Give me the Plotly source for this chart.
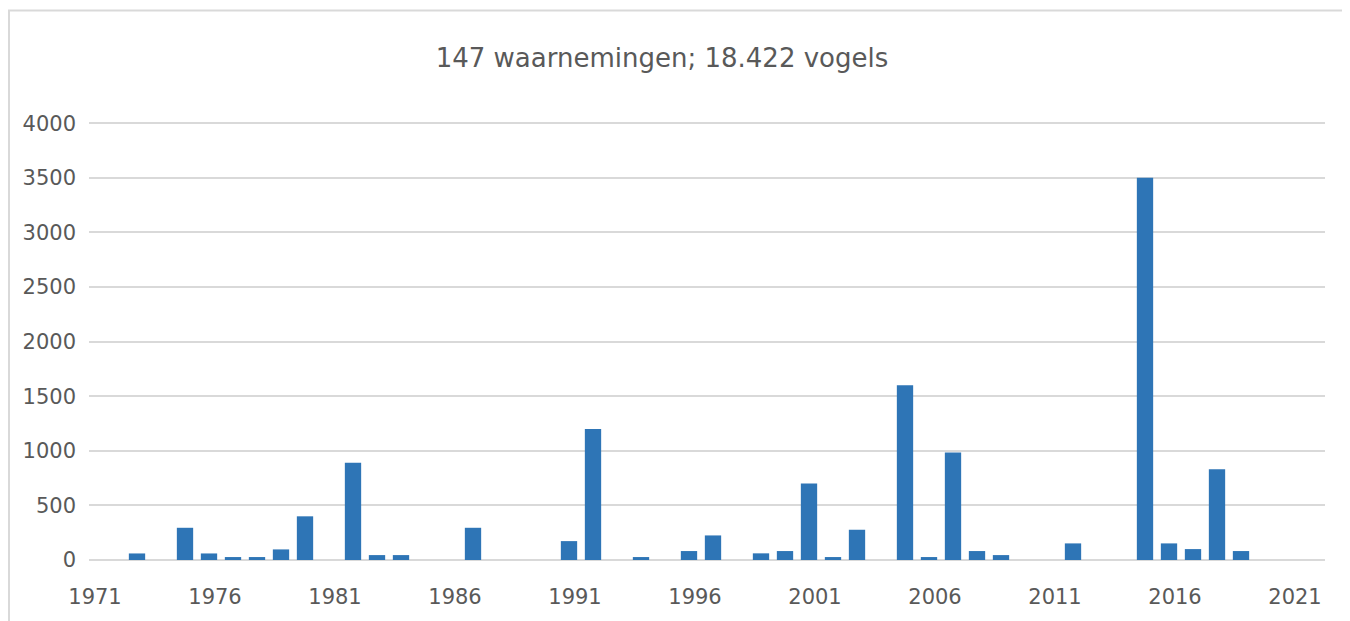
import plotly.graph_objects as go

# Data
years = [1973, 1975, 1976, 1977, 1978, 1979, 1980, 1982, 1983, 1984,
         1987, 1991, 1992, 1994, 1996, 1997, 1999, 2000, 2001, 2002,
         2003, 2005, 2006, 2007, 2008, 2009, 2012, 2015, 2016, 2017,
         2018, 2019]
birds = [60, 295, 60, 27, 27, 97, 400, 890, 45, 45,
         295, 173, 1200, 27, 82, 225, 61, 82, 700, 27,
         277, 1600, 27, 985, 82, 45, 152, 3500, 152, 100,
         830, 82]
x_ticks = [1971, 1976, 1981, 1986, 1991, 1996, 2001, 2006, 2011, 2016, 2021]
y_ticks = [0, 500, 1000, 1500, 2000, 2500, 3000, 3500, 4000]
title_text = "147 waarnemingen; 18.422 vogels"

# page body has an 8px margin, so the figure is drawn 8px in from the window edge
OFF = 8
W, H = 1350 - OFF, 621 - OFF
ML, MR, MT = 89 - OFF, 25, 121 - OFF
MB = H - (562 - OFF)
PW, PH = W - ML - MR, H - MT - MB

fig = go.Figure(go.Bar(
    x=years, y=birds, width=0.68,
    marker=dict(color="#2E75B6", line=dict(width=0)),
    hoverinfo="x+y",
))

grey = "#595959"
fig.update_layout(
    width=W, height=H, autosize=False,
    margin=dict(l=ML, r=MR, t=MT, b=MB),
    paper_bgcolor="white", plot_bgcolor="white",
    showlegend=False,
    font=dict(family="DejaVu Sans", color=grey),
    title=dict(text=title_text, x=(662 - OFF - ML) / PW, xref="paper", xanchor="center",
               y=1 - (58 - OFF) / H, yanchor="middle",
               font=dict(family="DejaVu Sans", size=26, color=grey)),
)
fig.update_xaxes(
    range=[1971.0, 2022.5], tickmode="array", tickvals=x_ticks,
    ticktext=[str(t) for t in x_ticks],
    showgrid=False, zeroline=False, showline=False, ticks="",
    tickfont=dict(size=21, color=grey), ticklabelshift=6, ticklabelstandoff=22,
)
fig.update_yaxes(
    range=[0, 4020], tickmode="array", tickvals=y_ticks,
    showgrid=True, gridcolor="#d9d9d9", gridwidth=1.5,
    zeroline=True, zerolinecolor="#d9d9d9", zerolinewidth=1.5,
    showline=False, ticks="",
    tickfont=dict(size=21, color=grey), ticklabelstandoff=12,
)
# light chart-area border (top and left visible)
fig.add_shape(type="rect", xref="paper", yref="paper",
              x0=(9 - OFF - ML) / PW, x1=(W + 20 - ML) / PW,
              y0=-(MB + 20) / PH, y1=(MT + PH - (10 - OFF)) / PH,
              line=dict(color="#d9d9d9", width=2), fillcolor="rgba(0,0,0,0)",
              layer="below")

fig.write_html("out.html")
